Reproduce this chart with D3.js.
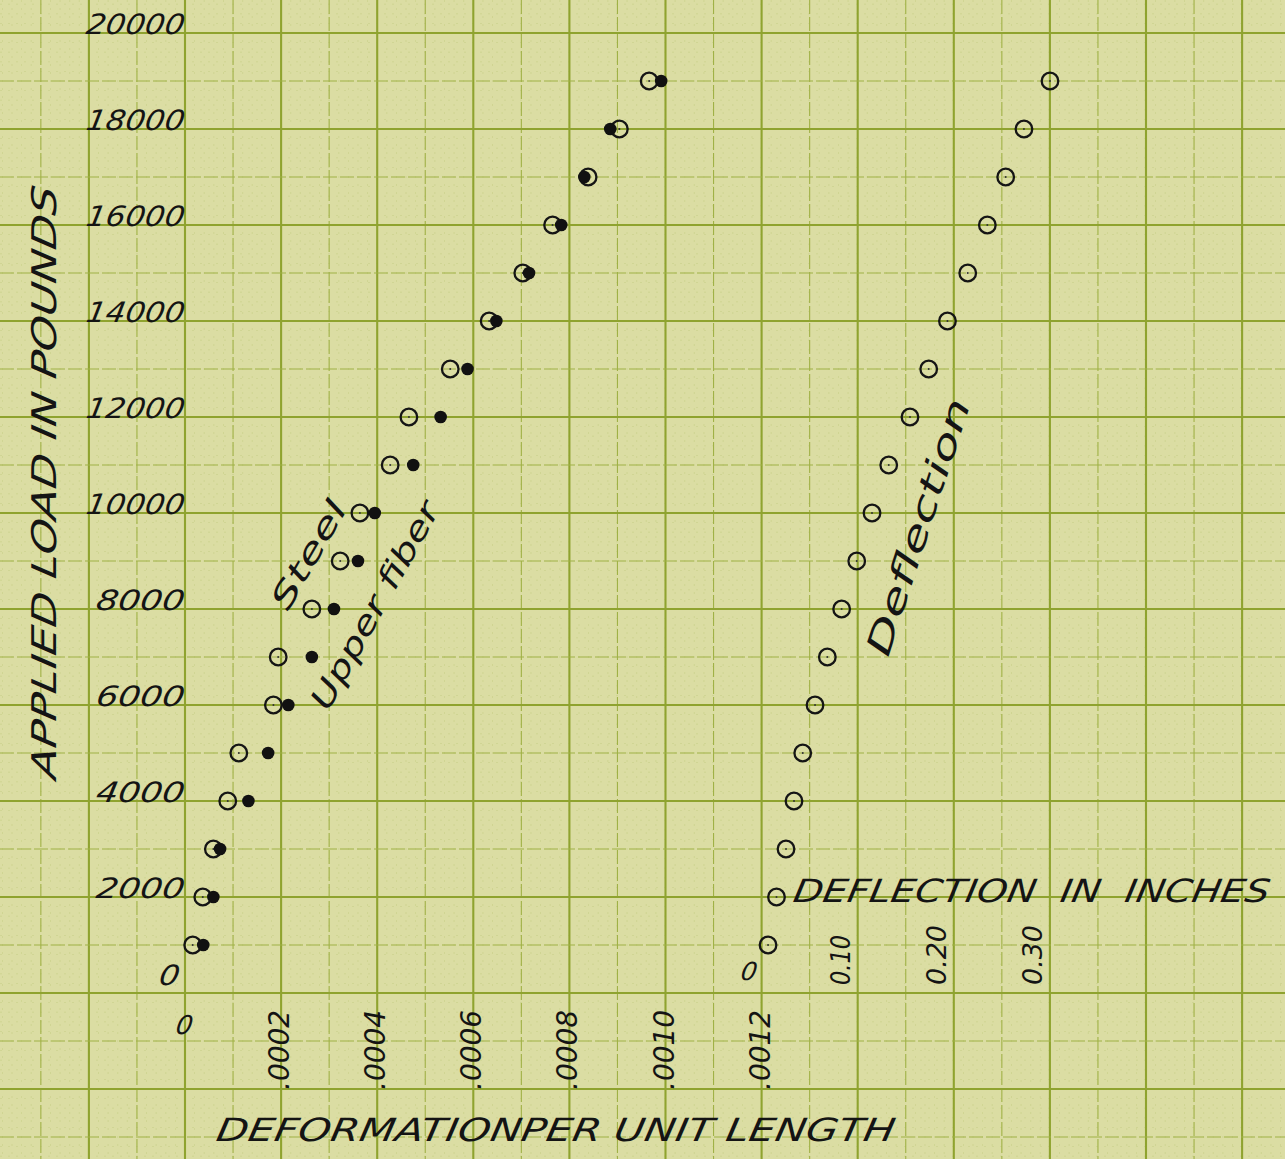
<!DOCTYPE html>
<html>
<head>
<meta charset="utf-8">
<script src="https://cdn.jsdelivr.net/npm/d3@7"></script>
<style>
  html, body { margin: 0; padding: 0; background: #dbdda3; }
  svg { display: block; }
  text { font-family: "DejaVu Sans", "Liberation Sans", sans-serif; font-style: italic; fill: #141414; }
</style>
</head>
<body>
<script>
// ---- data ----
const loads = [1000, 2000, 3000, 4000, 5000, 6000, 7000, 8000, 9000, 10000,
               11000, 12000, 13000, 14000, 15000, 16000, 17000, 18000, 19000];
// Steel (open circles): deformation per unit length
const steelStrain = [0.000016, 0.000037, 0.000059, 0.000089, 0.000112, 0.000184, 0.000194,
                     0.000264, 0.000323, 0.000364, 0.000427, 0.000466, 0.000552, 0.000633,
                     0.000703, 0.000765, 0.000839, 0.000904, 0.000966];
// Upper fiber (filled dots): deformation per unit length
const fiberStrain = [0.000038, 0.000059, 0.000073, 0.000132, 0.000173, 0.000215, 0.000264,
                     0.000310, 0.000360, 0.000395, 0.000475, 0.000532, 0.000588, 0.000648,
                     0.000716, 0.000783, 0.000831, 0.000885, 0.000991];
// Deflection (open circles) in inches
const deflection = [0.0067, 0.0155, 0.0254, 0.0337, 0.0428, 0.0556, 0.0684, 0.0833, 0.0990,
                    0.1149, 0.1323, 0.1544, 0.1739, 0.1934, 0.2145, 0.2349, 0.2540, 0.2730, 0.3001];

const loadTicks = [0, 2000, 4000, 6000, 8000, 10000, 12000, 14000, 16000, 18000, 20000];
const loadTickLabels = ["0", "2000", "4000", "6000", "8000", "10000", "12000", "14000", "16000", "18000", "20000"];
const strainTicks = [0.0002, 0.0004, 0.0006, 0.0008, 0.0010, 0.0012];
const strainTickLabels = [".0002", ".0004", ".0006", ".0008", ".0010", ".0012"];
const deflTicks = [0.10, 0.20, 0.30];
const deflTickLabels = ["0.10", "0.20", "0.30"];

// ---- layout ----
const W = 1285, H = 1159;
const svg = d3.select("body").append("svg").attr("width", W).attr("height", H);
svg.append("rect").attr("width", W).attr("height", H).attr("fill", "#dbdda3");

const x = d3.scaleLinear().domain([0, 0.0012]).range([185, 761.6]);
const y = d3.scaleLinear().domain([0, 20000]).range([993, 33]);
const xd = d3.scaleLinear().domain([0, 0.3]).range([761.6, 1049.9]);

// ---- graph-paper grid built from the scales ----
const grid = svg.append("g");
const xs = 0.00002, ys = 200;
const kx0 = Math.ceil(x.invert(0) / xs), kx1 = Math.floor(x.invert(W) / xs);
const ky0 = Math.ceil(y.invert(H) / ys), ky1 = Math.floor(y.invert(0) / ys);
function lineStyle(sel, k) {
  const m = ((k % 10) + 10) % 10;
  if (m === 0) sel.attr("stroke", "#8fa32f").attr("stroke-width", 2.1);
  else if (m === 5) sel.attr("stroke", "#a0b146").attr("stroke-width", 1.1).attr("stroke-dasharray", "14,3");
  else sel.attr("stroke", "#aebd62").attr("stroke-width", 0.7).attr("stroke-dasharray", "2,6").attr("opacity", 0.35);
}
const minorFirst = [], majorLater = [];
for (let k = kx0; k <= kx1; k++) (k % 5 === 0 ? majorLater : minorFirst).push({ t: "v", k });
for (let k = ky0; k <= ky1; k++) (k % 5 === 0 ? majorLater : minorFirst).push({ t: "h", k });
[...minorFirst, ...majorLater].forEach(d => {
  const l = grid.append("line");
  if (d.t === "v") {
    const px = x(d.k * xs);
    l.attr("x1", px).attr("x2", px).attr("y1", 0).attr("y2", H);
  } else {
    const py = y(d.k * ys);
    l.attr("x1", 0).attr("x2", W).attr("y1", py).attr("y2", py);
  }
  lineStyle(l, d.k);
});

// ---- tick labels ----
const skew = -10;
svg.append("g").selectAll("text").data(loadTicks).join("text")
  .attr("transform", (d, i) => `translate(${d === 0 ? 178 : 183},${d === 0 ? y(d) - 8 : y(d) + 1}) skewX(${skew})`)
  .attr("text-anchor", "end")
  .attr("font-size", 28)
  .attr("textLength", (d, i) => loadTickLabels[i].length === 5 ? 98 : (loadTickLabels[i].length === 4 ? 88 : 20))
  .attr("lengthAdjust", "spacingAndGlyphs")
  .text((d, i) => loadTickLabels[i]);

// strain "0"
svg.append("text").attr("transform", `translate(${x(0) - 2},1034) skewX(${skew})`)
  .attr("text-anchor", "middle").attr("font-size", 26).text("0");

svg.append("g").selectAll("text").data(strainTicks).join("text")
  .attr("transform", d => `translate(${x(d) + 8},1090) rotate(-90)`)
  .attr("text-anchor", "start")
  .attr("font-size", 29)
  .attr("textLength", 80)
  .attr("lengthAdjust", "spacingAndGlyphs")
  .text((d, i) => strainTickLabels[i]);

// deflection "0"
svg.append("text").attr("transform", `translate(${xd(0) - 14},980) skewX(${skew})`)
  .attr("text-anchor", "middle").attr("font-size", 25).text("0");

svg.append("g").selectAll("text").data(deflTicks).join("text")
  .attr("transform", d => `translate(${xd(d) - 8},985) rotate(-90)`)
  .attr("text-anchor", "start")
  .attr("font-size", 26)
  .attr("textLength", (d, i) => i === 0 ? 50 : 60)
  .attr("lengthAdjust", "spacingAndGlyphs")
  .text((d, i) => deflTickLabels[i]);

// ---- axis titles ----
svg.append("text")
  .attr("transform", `translate(56,780) rotate(-90) skewX(${skew})`)
  .attr("font-size", 34)
  .attr("textLength", 592).attr("lengthAdjust", "spacingAndGlyphs")
  .text("APPLIED LOAD IN POUNDS");

svg.append("text")
  .attr("transform", `translate(215,1141) skewX(${skew})`)
  .attr("font-size", 32)
  .attr("textLength", 678).attr("lengthAdjust", "spacingAndGlyphs")
  .text("DEFORMATIONPER UNIT LENGTH");

svg.append("text")
  .attr("transform", `translate(792,902) skewX(${skew})`)
  .attr("font-size", 32)
  .attr("textLength", 476).attr("lengthAdjust", "spacingAndGlyphs")
  .text("DEFLECTION\u00a0\u00a0IN\u00a0\u00a0INCHES");

// ---- series labels ----
svg.append("text").attr("transform", "translate(288,612) rotate(-60)")
  .attr("font-size", 31).attr("font-style", "normal")
  .attr("textLength", 120).attr("lengthAdjust", "spacingAndGlyphs").text("Steel");
svg.append("text").attr("transform", "translate(328,712) rotate(-61)")
  .attr("font-size", 31).attr("font-style", "normal")
  .attr("textLength", 232).attr("lengthAdjust", "spacingAndGlyphs").text("Upper fiber");
svg.append("text").attr("transform", "translate(888,658) rotate(-72)")
  .attr("font-size", 34).attr("font-style", "normal")
  .attr("textLength", 268).attr("lengthAdjust", "spacingAndGlyphs").text("Deflection");

// ---- markers ----
function openCircles(g, vals, xScale) {
  const sel = g.selectAll("g").data(loads).join("g")
    .attr("transform", (d, i) => `translate(${xScale(vals[i])},${y(d)})`);
  sel.append("circle").attr("r", 8.3).attr("fill", "none").attr("stroke", "#151515").attr("stroke-width", 2.3);
  sel.append("circle").attr("r", 1).attr("fill", "#333");
}
openCircles(svg.append("g"), steelStrain, x);
svg.append("g").selectAll("circle").data(loads).join("circle")
  .attr("cx", (d, i) => x(fiberStrain[i])).attr("cy", d => y(d))
  .attr("r", 6.3).attr("fill", "#111");
openCircles(svg.append("g"), deflection, xd);
</script>
</body>
</html>
